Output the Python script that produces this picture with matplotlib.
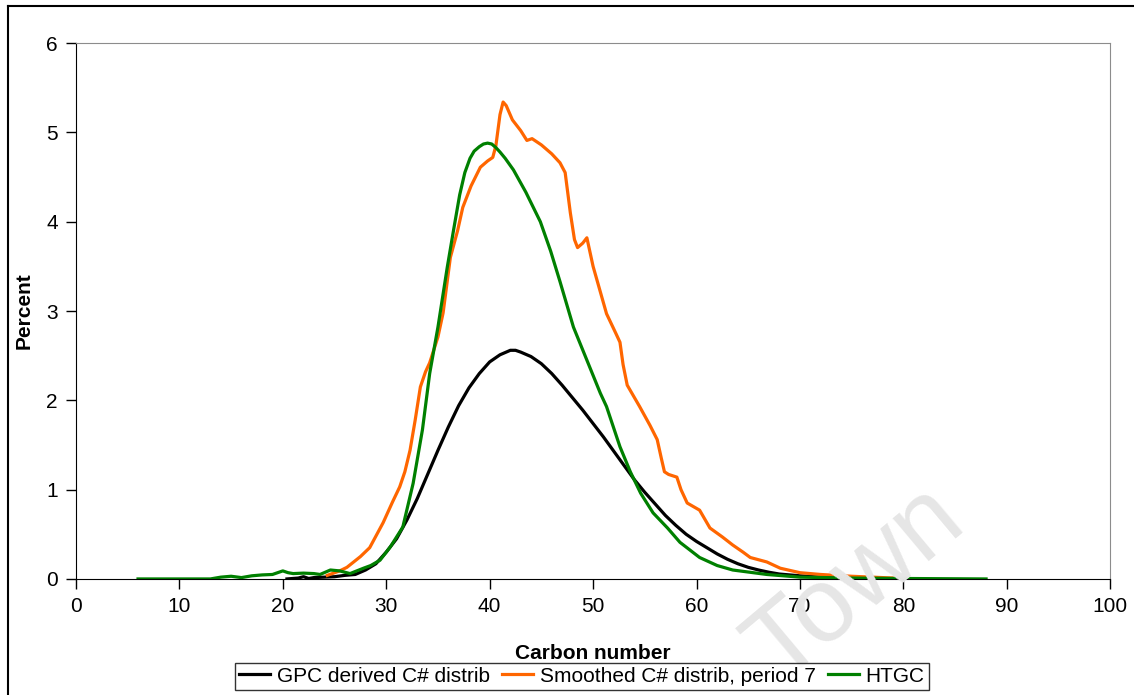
import numpy as np
import matplotlib.pyplot as plt
from matplotlib.lines import Line2D

plt.rcParams['font.family'] = ['Liberation Sans', 'DejaVu Sans']

# GPC derived carbon number distribution
gpc_x = [20.4, 21.5, 22.0, 22.5, 23.0, 24.0, 25.0, 26.0, 27.0, 28.0, 29.0, 30.0,
         31.0, 32.0, 33.0, 34.0, 35.0, 36.0, 37.0, 38.0, 39.0, 40.0, 41.0, 42.0,
         42.5, 43.0, 44.0, 45.0, 46.0, 47.0, 48.0, 49.0, 50.0, 51.0, 52.0, 53.0,
         54.0, 55.0, 56.0, 57.0, 58.0, 59.0, 60.0, 61.0, 62.0, 63.0, 64.0, 65.0,
         66.0, 67.0, 68.0, 70.0, 72.0, 75.0, 78.0, 80.0]
gpc_y = [0.0, 0.01, 0.025, 0.005, 0.015, 0.02, 0.025, 0.04, 0.05, 0.1, 0.17, 0.3,
         0.45, 0.66, 0.9, 1.17, 1.44, 1.7, 1.94, 2.14, 2.3, 2.43, 2.51, 2.56,
         2.56, 2.54, 2.49, 2.41, 2.3, 2.17, 2.03, 1.89, 1.74, 1.59, 1.43, 1.27,
         1.11, 0.97, 0.84, 0.71, 0.6, 0.5, 0.42, 0.35, 0.28, 0.22, 0.17, 0.13,
         0.1, 0.075, 0.055, 0.035, 0.02, 0.01, 0.004, 0.0]

# smoothed distribution (moving average, period 7)
smooth_x = [24.3, 25.5, 26.2, 27.5, 28.4, 29.7, 30.6, 31.3, 31.8, 32.3, 32.8, 33.3,
            33.8, 34.2, 35.0, 35.5, 36.2, 36.9, 37.4, 38.2, 39.1, 39.8, 40.3, 40.6,
            41.0, 41.3, 41.6, 42.2, 43.0, 43.6, 44.1, 45.0, 46.0, 46.8, 47.3, 47.8,
            48.2, 48.5, 49.0, 49.4, 50.0, 51.3, 52.2, 52.6, 52.9, 53.3, 54.5, 55.5,
            56.2, 56.6, 56.9, 57.3, 58.1, 58.5, 59.1, 60.3, 61.3, 62.5, 63.5, 64.5,
            65.2, 66.8, 68.1, 70.0, 72.0, 75.0, 78.0, 80.0, 82.0]
smooth_y = [0.04, 0.09, 0.13, 0.25, 0.35, 0.63, 0.86, 1.03, 1.2, 1.44, 1.78, 2.15,
            2.32, 2.42, 2.71, 2.98, 3.6, 3.9, 4.16, 4.4, 4.61, 4.68, 4.72, 4.85,
            5.2, 5.34, 5.3, 5.14, 5.02, 4.91, 4.93, 4.86, 4.76, 4.66, 4.55, 4.1,
            3.8, 3.71, 3.76, 3.82, 3.5, 2.97, 2.75, 2.65, 2.4, 2.17, 1.93, 1.72,
            1.56, 1.35, 1.2, 1.17, 1.14, 1.0, 0.85, 0.77, 0.57, 0.47, 0.38, 0.3,
            0.24, 0.19, 0.12, 0.07, 0.05, 0.03, 0.015, 0.006, 0.0]

# high temperature GC
htgc_x = [6.0, 8.0, 10.0, 12.0, 13.0, 14.0, 15.0, 16.0, 17.0, 18.0, 19.0, 19.5,
          20.0, 20.5, 21.0, 22.0, 23.0, 23.6, 24.6, 25.5, 26.5, 27.8, 28.5, 29.4,
          30.4, 31.6, 32.6, 33.5, 34.2, 35.0, 35.9, 36.5, 37.1, 37.6, 38.1, 38.5,
          39.0, 39.4, 39.8, 40.2, 40.6, 41.0, 41.5, 42.3, 43.5, 44.9, 45.9, 46.8,
          48.1, 49.4, 50.7, 51.3, 52.6, 53.6, 54.6, 55.8, 57.2, 58.4, 60.3, 62.0,
          63.5, 66.8, 70.0, 75.0, 80.0, 88.0]
htgc_y = [0.0, 0.0, 0.0, 0.0, 0.0, 0.02, 0.03, 0.015, 0.035, 0.045, 0.05, 0.07,
          0.09, 0.07, 0.06, 0.065, 0.06, 0.05, 0.1, 0.09, 0.06, 0.12, 0.15, 0.21,
          0.36, 0.58, 1.07, 1.67, 2.3, 2.82, 3.49, 3.9, 4.3, 4.55, 4.71, 4.79,
          4.84, 4.87, 4.88, 4.87, 4.83, 4.78, 4.71, 4.58, 4.33, 4.0, 3.67, 3.33,
          2.82, 2.45, 2.08, 1.93, 1.48, 1.2, 0.96, 0.74, 0.57, 0.41, 0.24, 0.15,
          0.1, 0.05, 0.02, 0.01, 0.005, 0.0]

series_labels = ['GPC derived C# distrib', 'Smoothed C# distrib, period 7', 'HTGC']
series_colors = ['#000000', '#FF6600', '#008000']

fig = plt.figure(figsize=(11.34, 6.95), dpi=100)
ax = fig.add_axes([0.067, 0.167, 0.912, 0.771])

ax.plot(gpc_x, gpc_y, color=series_colors[0], lw=2.3, label=series_labels[0])
ax.plot(smooth_x, smooth_y, color=series_colors[1], lw=2.3, label=series_labels[1])
ax.plot(htgc_x, htgc_y, color=series_colors[2], lw=2.3, label=series_labels[2])

ax.set_xlim(0, 100)
ax.set_ylim(0, 6)
ax.set_xticks(np.arange(0, 101, 10))
ax.set_yticks(np.arange(0, 7, 1))
ax.tick_params(direction='out', length=7, width=1, labelsize=15, pad=6)
for s in ['top', 'right']:
    ax.spines[s].set_color('#8c8c8c')
for s in ['left', 'bottom']:
    ax.spines[s].set_color('black')

ax.set_xlabel('Carbon number', fontsize=15, fontweight='bold', labelpad=20)
ax.set_ylabel('Percent', fontsize=15, fontweight='bold', labelpad=9)

leg = fig.legend(loc='center', bbox_to_anchor=(0.513, 0.027), ncol=3,
                 fontsize=15, frameon=True, fancybox=False, borderpad=0.2,
                 handlelength=1.5, handletextpad=0.3, columnspacing=0.6,
                 borderaxespad=0)
leg.get_frame().set_edgecolor('black')
leg.get_frame().set_linewidth(1.0)

# faint "Town" watermark
fig.text(0.755, 0.16, 'Town', rotation=40, fontsize=76, color='#e6e6e6',
         ha='center', va='center', zorder=0)

# outer frame (top and left edges)
fig.add_artist(Line2D([0.007, 1.0], [0.991, 0.991], color='black', lw=1.5,
                      transform=fig.transFigure))
fig.add_artist(Line2D([0.007, 0.007], [0.0, 0.991], color='black', lw=1.5,
                      transform=fig.transFigure))

fig.savefig('out.png', dpi=100)
